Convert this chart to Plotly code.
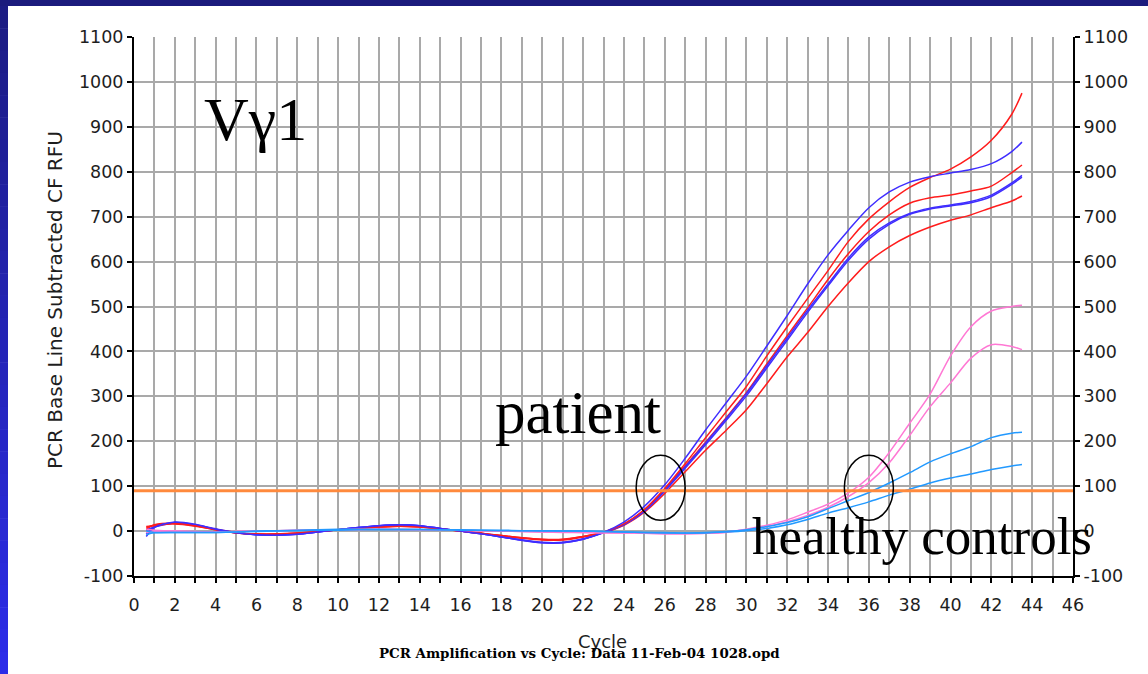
import plotly.graph_objects as go

# PCR cycle numbers at which fluorescence was sampled
cycles = [0.6, 1, 2, 3, 4, 5, 6, 7, 8, 9,
          10, 11, 12, 13, 14, 15, 16, 17, 18, 19,
          20, 21, 22, 23, 24, 25, 26, 27, 28, 29,
          30, 31, 32, 33, 34, 35, 36, 37, 38, 39,
          40, 41, 42, 43, 43.5]

# patient replicates (baseline-subtracted RFU)
patient_blue_1 = [-12, 8, 20, 15, 4, -4, -8, -9, -7, -2,
                  3, 8, 12, 14, 12, 6, 0, -6, -13, -20,
                  -26, -26, -18, -3, 20, 55, 103, 162, 225, 285,
                  345, 412, 480, 550, 615, 670, 720, 755, 777, 789,
                  797, 805, 818, 845, 866]
patient_red_1 = [10, 12, 17, 12, 3, -4, -6, -6, -4, -1,
                 3, 6, 9, 11, 9, 5, 0, -5, -10, -15,
                 -18, -18, -12, -2, 16, 48, 95, 150, 208, 265,
                 322, 390, 455, 518, 580, 645, 695, 733, 765, 787,
                 806, 833, 870, 928, 975]
patient_red_2 = [4, 14, 18, 13, 4, -3, -7, -7, -5, -1,
                 3, 7, 10, 12, 10, 5, 0, -5, -11, -16,
                 -20, -20, -13, -3, 15, 47, 93, 145, 198, 252,
                 308, 372, 435, 497, 560, 618, 667, 704, 730, 742,
                 748, 757, 768, 798, 815]
patient_blue_2 = [-6, 10, 19, 14, 5, -3, -8, -9, -7, -2,
                  3, 8, 12, 14, 12, 6, 0, -6, -13, -20,
                  -25, -25, -17, -3, 15, 46, 92, 143, 196, 250,
                  306, 368, 430, 492, 550, 608, 655, 686, 707, 719,
                  726, 734, 748, 775, 792]
patient_blue_3 = [2, 9, 18, 13, 4, -4, -8, -9, -7, -2,
                  3, 8, 12, 14, 12, 6, 0, -6, -13, -21,
                  -26, -26, -18, -4, 14, 44, 89, 140, 192, 246,
                  301, 363, 425, 487, 546, 603, 650, 683, 705, 717,
                  724, 731, 745, 772, 788]
patient_red_3 = [8, 13, 16, 11, 3, -4, -7, -7, -5, -1,
                 3, 6, 9, 11, 9, 5, 0, -5, -10, -15,
                 -19, -19, -12, -3, 13, 42, 84, 132, 180, 224,
                 270, 328, 388, 442, 500, 553, 600, 633, 658, 677,
                 692, 704, 720, 735, 746]

# healthy control replicates
control_pink_1 = [4, 2, 0, -2, -2, -1, 0, 1, 2, 3,
                  3, 4, 4, 4, 3, 3, 2, 1, 0, -1,
                  -2, -2, -3, -3, -4, -5, -6, -6, -5, -2,
                  4, 13, 25, 42, 60, 85, 120, 175, 240, 305,
                  390, 455, 490, 500, 503]
control_pink_2 = [-3, -1, 0, -1, -2, -1, 0, 1, 2, 2,
                  3, 3, 4, 3, 3, 2, 2, 1, 0, -1,
                  -2, -3, -3, -4, -4, -5, -6, -6, -5, -3,
                  3, 10, 21, 35, 53, 77, 108, 152, 213, 277,
                  330, 385, 415, 411, 404]
control_cyan_1 = [-8, -4, -3, -3, -3, -2, 0, 1, 2, 3,
                  4, 4, 4, 4, 4, 3, 3, 2, 2, 1,
                  1, 0, 0, -1, -2, -3, -3, -4, -3, -1,
                  3, 10, 19, 32, 50, 68, 86, 107, 130, 154,
                  172, 188, 208, 218, 220]
control_cyan_2 = [0, -3, -3, -3, -3, -2, -1, 0, 1, 2,
                  2, 3, 3, 3, 3, 3, 2, 2, 1, 1,
                  0, 0, 0, -1, -2, -3, -4, -4, -4, -2,
                  1, 6, 14, 26, 40, 52, 65, 80, 93, 107,
                  118, 127, 137, 145, 148]

threshold_rfu = 90
x_span = [0, 46]
y_span = [-100, 1100]

# RFU tick values and their labels (plain hyphen for negatives)
rfu_ticks = [-100, 0, 100, 200, 300, 400, 500, 600, 700, 800, 900, 1000, 1100]
rfu_labels = ["-100", "0", "100", "200", "300", "400", "500", "600",
              "700", "800", "900", "1000", "1100"]

RED = "#ff1c1c"
BLUE = "#3f2dff"
PINK = "#ff78d4"
CYAN = "#2299ff"
ORANGE = "#ff8a3d"
GRID = "#a9a9a9"

series = [
    (patient_red_3, RED),
    (patient_red_2, RED),
    (patient_blue_3, BLUE),
    (patient_blue_2, BLUE),
    (patient_red_1, RED),
    (patient_blue_1, BLUE),
    (control_pink_2, PINK),
    (control_pink_1, PINK),
    (control_cyan_2, CYAN),
    (control_cyan_1, CYAN),
]

fig = go.Figure()
for values, color in series:
    fig.add_trace(go.Scatter(
        x=cycles, y=values, mode="lines",
        line=dict(color=color, width=1.5, shape="spline", smoothing=0.8),
        showlegend=False, hoverinfo="skip",
    ))

# threshold line, drawn on the right-hand axis so it sits above the curves
fig.add_trace(go.Scatter(
    x=x_span, y=[threshold_rfu, threshold_rfu], mode="lines",
    line=dict(color=ORANGE, width=3), yaxis="y2",
    showlegend=False, hoverinfo="skip",
))

L, R, T, B = 134, 75, 37, 98
W, H = 1148, 674
PW, PH = W - L - R, H - T - B


def px_x(px):
    return (px - L) / PW


def px_y(py):
    return (H - B - py) / PH


tick_font = dict(family="DejaVu Sans", size=17.5, color="#1e1e1e")
axis_common = dict(
    showline=True, linecolor="black", linewidth=2,
    ticks="outside", ticklen=5, tickwidth=1.5, tickcolor="black",
    zeroline=False, tickfont=tick_font,
)

fig.update_layout(
    width=W, height=H,
    margin=dict(l=L, r=R, t=T, b=B),
    paper_bgcolor="white", plot_bgcolor="white",
    xaxis=dict(
        range=x_span, tick0=0, dtick=2,
        showgrid=True, gridcolor=GRID, gridwidth=2,
        minor=dict(dtick=1, ticks="outside", ticklen=5, tickcolor="black",
                   showgrid=True, gridcolor=GRID, gridwidth=2),
        ticklabelstandoff=7,
        **axis_common,
    ),
    yaxis=dict(
        range=y_span, tickvals=rfu_ticks, ticktext=rfu_labels,
        showgrid=True, gridcolor=GRID, gridwidth=2,
        **axis_common,
    ),
    yaxis2=dict(
        range=y_span, tickvals=rfu_ticks, ticktext=rfu_labels,
        overlaying="y", side="right", showgrid=False,
        **axis_common,
    ),
)

# slide frame: navy strip on top, blue gradient strip on the left
shapes = [dict(type="rect", xref="paper", yref="paper",
               x0=px_x(0), x1=px_x(W), y0=px_y(6), y1=px_y(0),
               fillcolor="#1b1b7d", line_width=0)]
steps = 30
top_rgb = (28, 28, 132)
bot_rgb = (44, 44, 232)
for i in range(steps):
    t = i / (steps - 1)
    rgb = tuple(round(a + (b - a) * t) for a, b in zip(top_rgb, bot_rgb))
    y_top = 6 + (H - 6) * i / steps
    y_bot = 6 + (H - 6) * (i + 1) / steps
    shapes.append(dict(type="rect", xref="paper", yref="paper",
                       x0=px_x(0), x1=px_x(8), y0=px_y(y_bot + 0.5), y1=px_y(y_top),
                       fillcolor="rgb(%d,%d,%d)" % rgb, line_width=0))

# rings around the threshold crossings
for cx in (25.8, 36.0):
    shapes.append(dict(type="circle", xref="x", yref="y",
                       x0=cx - 1.2, x1=cx + 1.2, y0=24, y1=169,
                       line=dict(color="black", width=1.5)))
fig.update_layout(shapes=shapes)

serif = "Liberation Serif"
annotations = [
    dict(text="PCR Base Line Subtracted CF RFU", textangle=-90,
         x=px_x(55), y=px_y(300), font=dict(family="DejaVu Sans", size=20, color="#1e1e1e")),
    dict(text="Cycle", x=px_x(602), y=px_y(641),
         font=dict(family="DejaVu Sans", size=18, color="#1e1e1e")),
    dict(text="<b>PCR Amplification vs Cycle: Data 11-Feb-04 1028.opd</b>",
         x=px_x(579), y=px_y(653),
         font=dict(family="DejaVu Serif", size=13.4, color="black")),
    dict(text="Vγ1", x=px_x(255), y=px_y(119),
         font=dict(family=serif, size=62, color="black")),
    dict(text="patient", x=px_x(578), y=px_y(413),
         font=dict(family=serif, size=61, color="black")),
    dict(text="healthy controls", x=px_x(922), y=px_y(536),
         font=dict(family=serif, size=53, color="black")),
]
for a in annotations:
    a.update(xref="paper", yref="paper", showarrow=False,
             xanchor="center", yanchor="middle")
fig.update_layout(annotations=annotations)

fig.write_html("out.html")
